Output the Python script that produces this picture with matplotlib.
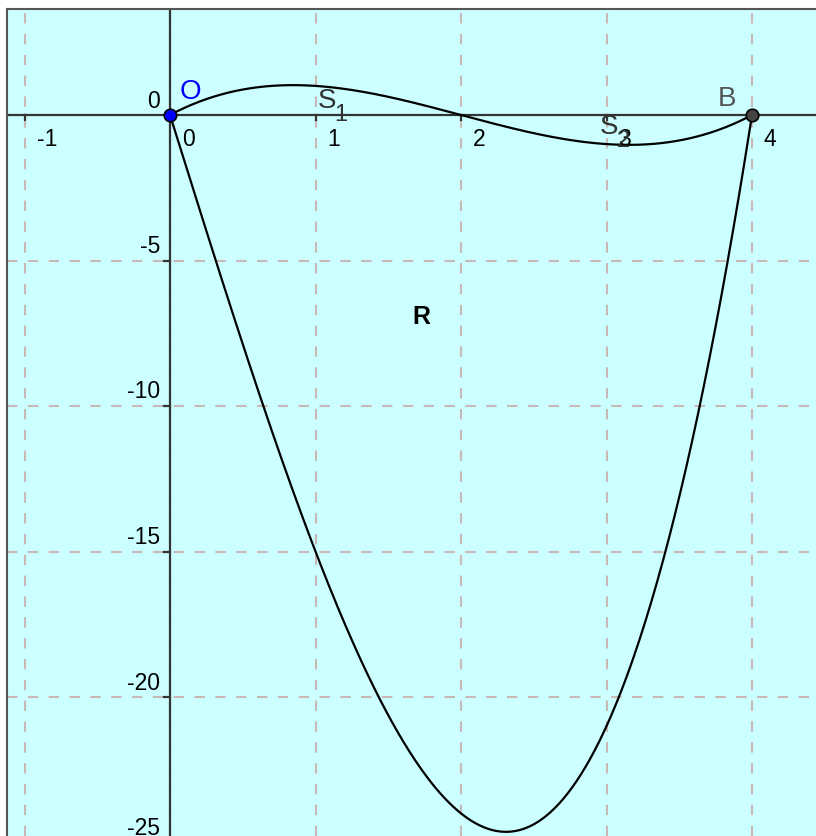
import matplotlib
matplotlib.use("Agg")
import matplotlib.pyplot as plt
import numpy as np

# polynomial coefficients (highest power first)
F_COEF = [1 / 3, -2, 8 / 3, 0]     # small curve through O, S1, S2, B
G_COEF = [1, 0, -16, 0]            # deep curve through O and B
X_START, X_END = 0, 4

X_TICKS = [-1, 0, 1, 2, 3, 4]
Y_TICKS = [0, -5, -10, -15, -20, -25]

POINT_O = (0, 0)
POINT_B = (4, 0)
LABEL_R = (1.73, -6.95)
LABELS_S = [("S", "1", (1.08, 0.48)), ("S", "2", (3.02, -0.41))]

BG = "#ccffff"
GRID = "#c8b8b8"
AXIS = "#333333"
FAM = ["Liberation Sans", "DejaVu Sans"]

W, H = 816, 836
fig = plt.figure(figsize=(W / 100, H / 100), dpi=100)
fig.patch.set_facecolor("white")
ax = fig.add_axes([7 / W, 0, (W - 7) / W, (H - 9) / H])
ax.set_facecolor(BG)

# pixel -> data mapping from reference: x0=170px, 145.5 px/unit; y0=115px, 29.1 px/unit
ax.set_xlim((7 - 170) / 145.5, (W - 170) / 145.5)
ax.set_ylim((115 - H) / 29.1, (115 - 9) / 29.1)

for s in ["right", "bottom"]:
    ax.spines[s].set_visible(False)
for s in ["left", "top"]:
    ax.spines[s].set_color("#555555")
    ax.spines[s].set_linewidth(1.5)
ax.set_xticks([])
ax.set_yticks([])

# dashed grid
for x in X_TICKS:
    ax.axvline(x, color=GRID, lw=1.5, ls=(0, (5, 5)), zorder=1)
for y in Y_TICKS[1:]:
    ax.axhline(y, color=GRID, lw=1.5, ls=(0, (5, 5)), zorder=1)

# axes
ax.axhline(0, color=AXIS, lw=1.6, zorder=2)
ax.axvline(0, color=AXIS, lw=1.6, zorder=2)

tick_kw = dict(textcoords="offset pixels", fontsize=16.5, color="black",
               family=FAM, zorder=5, annotation_clip=False)
for x in X_TICKS:
    ax.plot([x, x], [0, -0.18], color=AXIS, lw=1.6, zorder=2)
    ax.annotate(str(x), (x, 0), xytext=(12, -24), ha="left", va="center", **tick_kw)
for y in Y_TICKS:
    if y != 0:
        ax.plot([-0.04, 0], [y, y], color=AXIS, lw=1.6, zorder=2, clip_on=False)
    ax.annotate(str(y), (0, y), xytext=(-10, 14), ha="right", va="center", **tick_kw)

# curves
xs = np.linspace(X_START, X_END, 400)
ax.plot(xs, np.polyval(F_COEF, xs), color="black", lw=1.6, zorder=3)
ax.plot(xs, np.polyval(G_COEF, xs), color="black", lw=1.6, zorder=3)

# points
ax.plot(*POINT_O, "o", ms=9, mfc="#0000ff", mec="black", mew=1.2, zorder=6)
ax.plot(*POINT_B, "o", ms=9, mfc="#444444", mec="black", mew=1.2, zorder=6)

lab_kw = dict(textcoords="offset pixels", family=FAM, zorder=5)
ax.annotate("O", POINT_O, xytext=(20, 23), ha="center", va="center",
            color="#0000ff", fontsize=20, **lab_kw)
ax.annotate("B", POINT_B, xytext=(-25, 16), ha="center", va="center",
            color="#555555", fontsize=20, **lab_kw)
for main, sub, pos in LABELS_S:
    ax.annotate(main, pos, xytext=(0, 0), ha="center", va="center",
                color="#333333", fontsize=20, **lab_kw)
    ax.annotate(sub, pos, xytext=(14, -14), ha="center", va="center",
                color="#333333", fontsize=17, **lab_kw)
ax.text(*LABEL_R, "R", ha="center", va="center", fontsize=18, fontweight="bold",
        family=FAM, color="black", zorder=5)

fig.savefig("out.png", dpi=100, facecolor="white")
